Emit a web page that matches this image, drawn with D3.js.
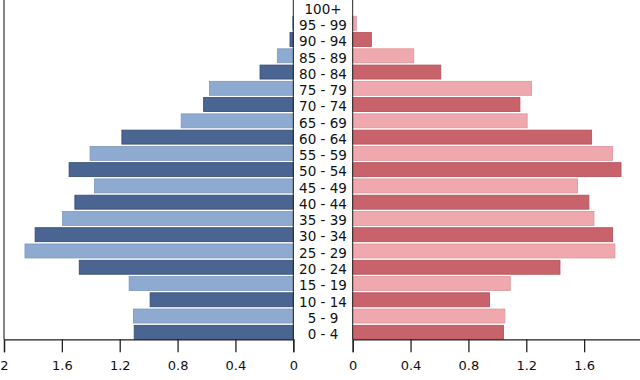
<!DOCTYPE html>
<html>
<head>
<meta charset="utf-8">
<script src="https://cdn.jsdelivr.net/npm/d3@7"></script>
<style>
html,body{margin:0;padding:0;background:#fff;}
svg{display:block;font-family:"DejaVu Sans",sans-serif;}
</style>
</head>
<body>
<svg id="chart" width="640" height="380"></svg>
<script>
const ages = ["0 - 4","5 - 9","10 - 14","15 - 19","20 - 24","25 - 29","30 - 34","35 - 39","40 - 44","45 - 49","50 - 54","55 - 59","60 - 64","65 - 69","70 - 74","75 - 79","80 - 84","85 - 89","90 - 94","95 - 99","100+"];
const leftValues = [1.10, 1.105, 0.99, 1.135, 1.48, 1.855, 1.785, 1.595, 1.51, 1.375, 1.55, 1.405, 1.185, 0.775, 0.62, 0.58, 0.23, 0.11, 0.023, 0.005, 0];
const rightValues = [1.043, 1.052, 0.946, 1.089, 1.433, 1.813, 1.797, 1.668, 1.633, 1.555, 1.855, 1.797, 1.652, 1.206, 1.156, 1.237, 0.609, 0.422, 0.129, 0.025, 0];
const leftTicks = [0, 0.4, 0.8, 1.2, 1.6, 2];
const leftTickLabels = ["0", "0.4", "0.8", "1.2", "1.6", "2"];
const rightTicks = [0, 0.4, 0.8, 1.2, 1.6];
const rightTickLabels = ["0", "0.4", "0.8", "1.2", "1.6"];

const svg = d3.select("#chart");
const axisY = 339.3;
const xL = d3.scaleLinear().domain([0, 2]).range([293.3, 4]);
const xR = d3.scaleLinear().domain([0, 2]).range([352.7, 642]);
const y = d3.scaleBand().domain(ages).range([axisY, 0]).paddingInner(0.14).paddingOuter(0);

const colors = {
  leftDark: "#4a6592", leftLight: "#8eaad0",
  rightDark: "#c9636b", rightLight: "#eea8ae",
  leftDarkStroke: "#34496e", leftLightStroke: "#7d98bd",
  rightDarkStroke: "#b24f58", rightLightStroke: "#dc959b"
};

// left bars
svg.append("g").selectAll("rect").data(ages).join("rect")
  .attr("x", (d, i) => xL(leftValues[i]))
  .attr("y", d => y(d))
  .attr("width", (d, i) => xL(0) - xL(leftValues[i]))
  .attr("height", y.bandwidth())
  .attr("fill", (d, i) => i % 2 === 0 ? colors.leftDark : colors.leftLight)
  .attr("stroke", (d, i) => leftValues[i] > 0 ? (i % 2 === 0 ? colors.leftDarkStroke : colors.leftLightStroke) : "none")
  .attr("stroke-width", 0.8);

// right bars
svg.append("g").selectAll("rect").data(ages).join("rect")
  .attr("x", xR(0))
  .attr("y", d => y(d))
  .attr("width", (d, i) => xR(rightValues[i]) - xR(0))
  .attr("height", y.bandwidth())
  .attr("fill", (d, i) => i % 2 === 0 ? colors.rightDark : colors.rightLight)
  .attr("stroke", (d, i) => rightValues[i] > 0 ? (i % 2 === 0 ? colors.rightDarkStroke : colors.rightLightStroke) : "none")
  .attr("stroke-width", 0.8);

// age labels
svg.append("g").selectAll("text").data(ages).join("text")
  .attr("x", (xL(0) + xR(0)) / 2)
  .attr("y", d => y(d) + y.bandwidth() / 2)
  .attr("dy", "0.5em")
  .attr("text-anchor", "middle")
  .attr("font-size", 13.5)
  .attr("fill", "#111")
  .text(d => d);

// vertical lines
svg.append("line").attr("x1", xL(2)).attr("x2", xL(2)).attr("y1", 0).attr("y2", axisY)
  .attr("stroke", "#666").attr("stroke-width", 1.6);
svg.append("line").attr("x1", xL(0)).attr("x2", xL(0)).attr("y1", 0).attr("y2", axisY)
  .attr("stroke", "#222").attr("stroke-width", 1);
svg.append("line").attr("x1", xR(0)).attr("x2", xR(0)).attr("y1", 0).attr("y2", axisY)
  .attr("stroke", "#222").attr("stroke-width", 1);

// axes
const axL = d3.axisBottom(xL).tickValues(leftTicks)
  .tickFormat((d, i) => leftTickLabels[i]).tickSize(13).tickPadding(8);
const axR = d3.axisBottom(xR).tickValues(rightTicks)
  .tickFormat((d, i) => rightTickLabels[i]).tickSize(13).tickPadding(8);

[axL, axR].forEach(ax => {
  const g = svg.append("g").attr("transform", `translate(0,${axisY})`).call(ax);
  g.selectAll("path,line").attr("stroke", "#222").attr("stroke-width", 1.3);
  g.selectAll("text").attr("font-size", 13).attr("fill", "#111")
    .attr("font-family", "'DejaVu Sans',sans-serif");
});
</script>
</body>
</html>
